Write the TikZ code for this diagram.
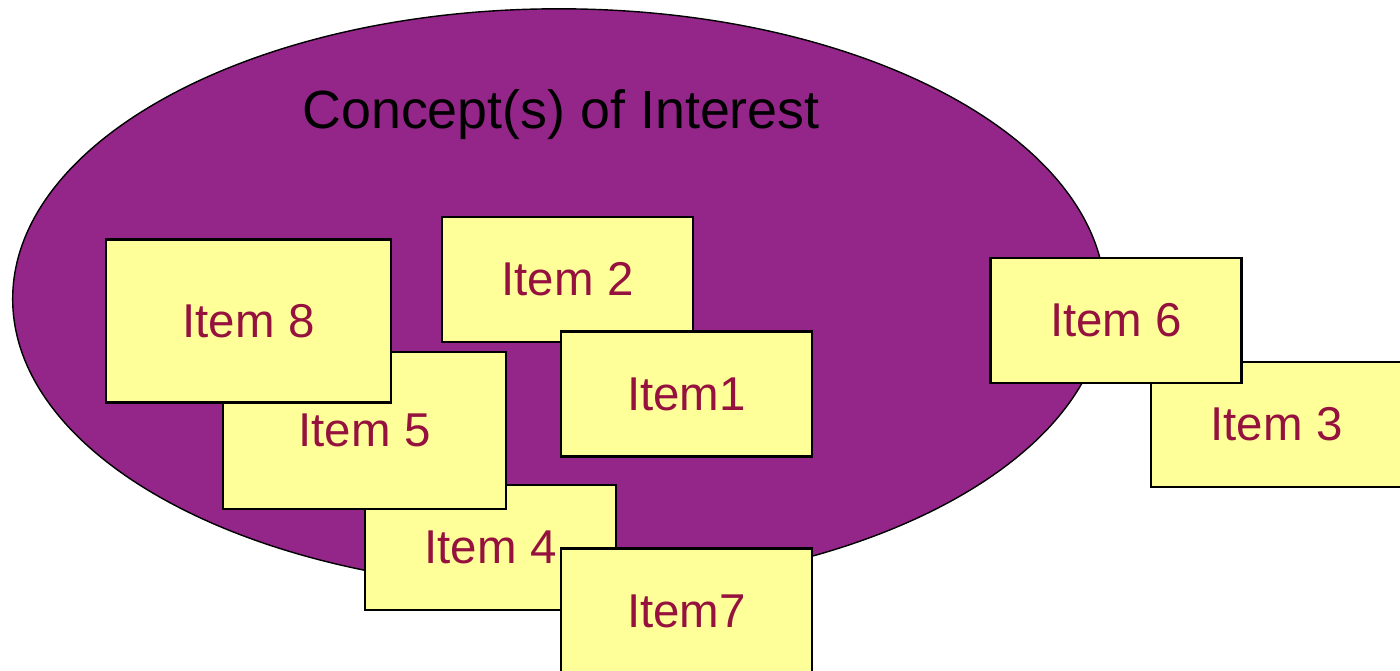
\documentclass[tikz,border=0pt]{standalone}
\usepackage{fontspec}
\setmainfont{Liberation Sans}
\usetikzlibrary{shapes.geometric}

\definecolor{conceptPurple}{RGB}{148,38,137}
\definecolor{itemYellow}{RGB}{255,255,153}
\definecolor{itemRed}{RGB}{150,18,62}

\tikzset{
  concept/.style={ellipse, draw=black, line width=0.4pt, fill=conceptPurple,
    minimum width=10.92cm, minimum height=5.8cm, inner sep=0pt},
  title/.style={font=\fontsize{15.3}{18}\selectfont, text=black},
  itembox/.style={rectangle, draw=black, line width=0.75pt, fill=itemYellow,
    minimum width=2.51cm, minimum height=1.25cm, inner sep=0pt,
    font=\fontsize{13.5}{16}\selectfont, text=itemRed},
  bigbox/.style={itembox, minimum width=2.85cm, minimum height=1.63cm}
}

\newcommand{\drawItem}[4]{\node [itembox, #4] (#1) at #2 {#3}}

\begin{document}
\begin{tikzpicture}[x=0.01cm, y=-0.01cm]
    \useasboundingbox (0,0) rectangle (1400,671);
    \clip (0,0) rectangle (1400,671);

    %the concept
    \node [concept] (interest) at (559,299) {};
    \node [title] (interestlabel) at (561,115) {Concept(s) of Interest};

    %back row
    \drawItem{item2}{(567.5,279.5)}{Item 2}{};
    \drawItem{item1}{(686.5,394)}{Item1}{};

    %outside the concept
    \drawItem{item3}{(1276.5,424.5)}{Item 3}{};
    \drawItem{item6}{(1116,320.5)}{Item 6}{};

    %left cluster
    \drawItem{item4}{(490.5,547.5)}{Item 4}{};
    \drawItem{item5}{(364.5,430.5)}{Item 5}{minimum width=2.83cm, minimum height=1.57cm};
    \drawItem{item8}{(248.5,321)}{Item 8}{bigbox};

    %front
    \drawItem{item7}{(686.5,611)}{Item7}{};
\end{tikzpicture}
\end{document}
